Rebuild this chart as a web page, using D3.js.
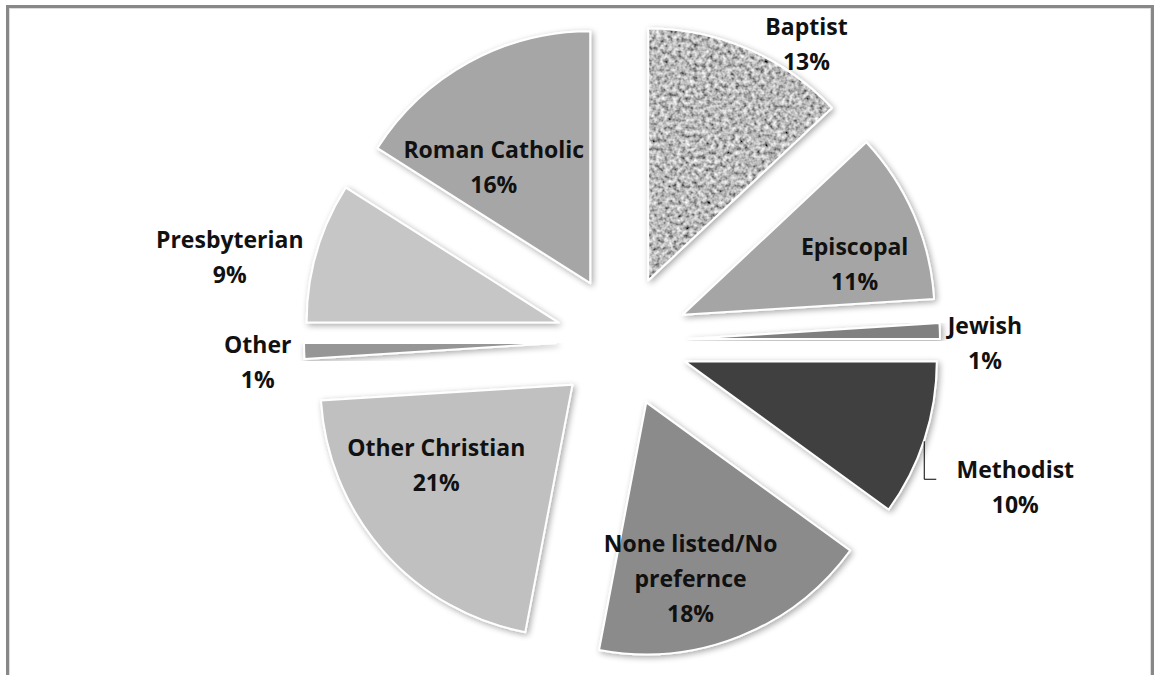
<!DOCTYPE html>
<html>
<head>
<meta charset="utf-8">
<script src="https://cdn.jsdelivr.net/npm/d3@7"></script>
<style>
  body { margin: 0; background: #fff; }
  text { font-family: "Open Sans", sans-serif; font-weight: 700; fill: #111; }
</style>
</head>
<body>
<svg id="chart" width="1155" height="675"></svg>
<script>
let categories = ["Baptist", "Episcopal", "Jewish", "Methodist", "None listed/No preference",
  "Other Christian", "Other", "Presbyterian", "Roman Catholic"]
let values = [13, 11, 1, 10, 18, 21, 1, 9, 16]
let label_lines = [["Baptist"], ["Episcopal"], ["Jewish"], ["Methodist"], ["None listed/No", "prefernce"],
  ["Other Christian"], ["Other"], ["Presbyterian"], ["Roman Catholic"]]
let fills = ["#a9a9a9", "#a5a5a5", "#808080", "#404040", "#8b8b8b", "#c0c0c0", "#969696", "#c6c6c6", "#a6a6a6"]

// where each label sits: [distance from slice tip, angle in degrees]
let label_at = [[283, 34], [179, 74], [297, 91], [354, 111], [183, 166], [159, 239], [299, 266], [335, 281], [150, 320]]

let cx = 622, cy = 341, r = 252, explode = 66

function polar(dist, deg) {
  let a = deg * Math.PI / 180
  return [dist * Math.sin(a), -dist * Math.cos(a)]
}

function mid_deg(d) {
  return (d.startAngle + d.endAngle) / 2 * 180 / Math.PI
}

function defs(svg) {
  let d = svg.append("defs")

  let shadow = d.append("filter").attr("id", "shadow")
    .attr("x", "-10%").attr("y", "-10%").attr("width", "120%").attr("height", "120%")
  shadow.append("feGaussianBlur").attr("in", "SourceAlpha").attr("stdDeviation", 3)
  shadow.append("feOffset").attr("dx", 2).attr("dy", 2).attr("result", "blur")
  shadow.append("feComponentTransfer").append("feFuncA").attr("type", "linear").attr("slope", 0.35)
  let merge = shadow.append("feMerge")
  merge.append("feMergeNode")
  merge.append("feMergeNode").attr("in", "SourceGraphic")

  // speckled gray texture for the Baptist slice
  let noise = d.append("filter").attr("id", "noise")
    .attr("x", 0).attr("y", 0).attr("width", "100%").attr("height", "100%")
  noise.append("feTurbulence").attr("type", "fractalNoise")
    .attr("baseFrequency", 0.24).attr("numOctaves", 2).attr("seed", 7).attr("result", "t")
  noise.append("feColorMatrix").attr("in", "t").attr("type", "matrix")
    .attr("values", "1 0 0 0 0  1 0 0 0 0  1 0 0 0 0  0 0 0 0 1").attr("result", "g")
  let ct = noise.append("feComponentTransfer").attr("in", "g").attr("result", "c")
  ;["feFuncR", "feFuncG", "feFuncB"].forEach(f => {
    ct.append(f).attr("type", "linear").attr("slope", 1.35).attr("intercept", -0.18)
  })
  noise.append("feGaussianBlur").attr("in", "c").attr("stdDeviation", 0.5).attr("result", "s")
  noise.append("feComposite").attr("in", "s").attr("in2", "SourceGraphic").attr("operator", "in")
}

function draw() {
  let svg = d3.select("#chart")
  defs(svg)

  // frame, cropped at the bottom
  svg.append("rect")
    .attr("x", 7.5).attr("y", 6.5).attr("width", 1145).attr("height", 720)
    .attr("fill", "none").attr("stroke", "#888").attr("stroke-width", 3)
  svg.append("rect")
    .attr("x", 9.5).attr("y", 8.5).attr("width", 1141).attr("height", 720)
    .attr("fill", "none").attr("stroke", "#ddd").attr("stroke-width", 1)

  let pie = d3.pie().sort(null).value(d => d)
  let arcs = pie(values)
  let arc = d3.arc().innerRadius(0).outerRadius(r)

  let slices = svg.append("g").attr("id", "slices")
    .selectAll("g")
    .data(arcs).enter()
    .append("g")
    .attr("filter", "url(#shadow)")
    .attr("transform", d => {
      let [dx, dy] = polar(explode, mid_deg(d))
      return `translate(${cx + dx},${cy + dy})`
    })

  slices.append("path")
    .attr("d", arc)
    .attr("fill", (d, i) => fills[i])
    .attr("filter", (d, i) => i == 0 ? "url(#noise)" : null)
  slices.append("path")
    .attr("d", arc)
    .attr("fill", "none")
    .attr("stroke", "#fff")
    .attr("stroke-width", 2)
    .attr("stroke-linejoin", "round")

  let labels = svg.append("g").attr("id", "labels")
    .selectAll("text")
    .data(arcs).enter()
    .append("text")
    .attr("text-anchor", "middle")
    .attr("font-size", 23)
    .attr("transform", (d, i) => {
      let [ex, ey] = polar(explode, mid_deg(d))
      let [lx, ly] = polar(label_at[i][0], label_at[i][1])
      let lines = label_lines[i].length + 1
      return `translate(${cx + ex + lx},${cy + ey + ly - (lines - 1) * 35 / 2 + 7})`
    })

  labels.each(function (d, i) {
    let t = d3.select(this)
    label_lines[i].concat([values[i] + "%"]).forEach((s, k) => {
      t.append("tspan").attr("x", 0).attr("y", k * 35).text(s)
    })
  })

  // leader line for Methodist
  let m = arcs[3]
  let [ex, ey] = polar(explode, mid_deg(m))
  let [lx, ly] = polar(label_at[3][0], label_at[3][1])
  let x0 = cx + ex + lx - 91, y0 = cy + ey + ly - 9
  svg.append("path")
    .attr("d", `M${x0},${y0 - 38}V${y0}H${x0 + 12}`)
    .attr("fill", "none").attr("stroke", "#000").attr("stroke-width", 1)
}

draw()
</script>
</body>
</html>
